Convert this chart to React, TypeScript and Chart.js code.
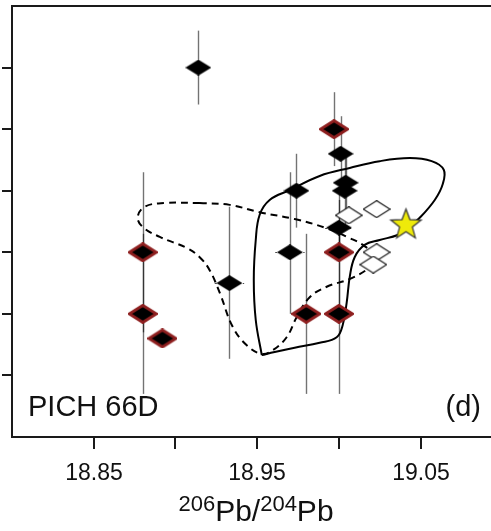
import { useEffect, useRef } from "react";
import { Chart, registerables } from "chart.js";

Chart.register(...registerables);

// Axis extents and ticks (206Pb/204Pb on x, unlabelled ratio on y)
const xMin = 18.8;
const xMax = 19.093;
const yMin = 15.6;
const yMax = 15.67;
const xTicks = [18.85, 18.9, 18.95, 19.0, 19.05];
const xTickLabels = ["18.85", "", "18.95", "", "19.05"];
const yTicks = [15.61, 15.62, 15.63, 15.64, 15.65, 15.66];

// Black diamonds (no rim)
const blackX = [18.914, 18.933, 18.974, 18.970, 19.001, 19.0041, 19.0035, 19.000];
const blackY = [15.660, 15.625, 15.640, 15.630, 15.646, 15.6413, 15.640, 15.634];
const blackErrLow = [15.654, 15.6127, 15.634, 15.620, 15.6398, 15.6355, 15.6345, 15.6295];
const blackErrHigh = [15.666, 15.6374, 15.646, 15.643, 15.6521, 15.6466, 15.6455, 15.6385];
const blackXErr = [0, 0.009, 0, 0.009, 0, 0, 0, 0.0085];

// Black diamonds with red rim
const redX = [18.880, 18.880, 18.892, 18.980, 18.997, 19.000, 19.000];
const redY = [15.630, 15.620, 15.616, 15.620, 15.650, 15.630, 15.620];
const redErrLow = [15.617, 15.607, null, 15.607, 15.644, 15.620, 15.607];
const redErrHigh = [15.643, 15.633, null, 15.633, 15.656, 15.640, 15.633];

// Open diamonds
const openX = [19.006, 19.023, 19.023, 19.021];
const openY = [15.636, 15.637, 15.630, 15.628];

// Star
const starX = [19.041];
const starY = [15.6346];

// Solid field outline
const solidX = [18.9528, 18.9491, 18.9479, 18.9491, 18.9515, 18.9576, 18.9699, 18.9882, 19.0066, 19.0249, 19.0433, 19.0567, 19.0641, 19.0635, 19.0586, 19.0494, 19.0421, 19.0359, 19.0249, 19.0157, 19.0096, 19.0066, 19.0047, 19.0023, 18.9986, 18.9882, 18.9729, 18.9607, 18.9528];
const solidY = [15.6133, 15.6190, 15.6255, 15.6320, 15.6361, 15.6385, 15.6401, 15.6424, 15.6437, 15.6448, 15.6453, 15.6448, 15.6434, 15.6411, 15.6385, 15.6356, 15.6339, 15.6328, 15.6320, 15.6312, 15.6292, 15.6260, 15.6218, 15.6182, 15.6162, 15.6153, 15.6145, 15.6138, 15.6133];

// Dashed field outline
const dashX = [18.9148, 18.9332, 18.9515, 18.9729, 18.9925, 19.0066, 19.0157, 19.0213, 19.0200, 19.0078, 18.9925, 18.9821, 18.9742, 18.9680, 18.9595, 18.9528, 18.9436, 18.9350, 18.9271, 18.9209, 18.9148, 18.9069, 18.8904, 18.8800, 18.8769, 18.8812, 18.8934, 18.9148];
const dashY = [15.6380, 15.6377, 15.6365, 15.6354, 15.6339, 15.6323, 15.6310, 15.6294, 15.6279, 15.6258, 15.6244, 15.6227, 15.6195, 15.6162, 15.6141, 15.6135, 15.6149, 15.6179, 15.6234, 15.6271, 15.6292, 15.6307, 15.6325, 15.6341, 15.6357, 15.6374, 15.6380, 15.6380];

const pts = (xs: number[], ys: number[]) => xs.map((x, i) => ({ x, y: ys[i] }));

function diamond(w: number, h: number, fill: string, stroke: string | null, lw: number) {
  const c = document.createElement("canvas");
  c.width = w;
  c.height = h;
  const g = c.getContext("2d")!;
  const inset = stroke ? lw / 2 : 0;
  g.beginPath();
  g.moveTo(w / 2, inset);
  g.lineTo(w - inset, h / 2);
  g.lineTo(w / 2, h - inset);
  g.lineTo(inset, h / 2);
  g.closePath();
  g.fillStyle = fill;
  g.fill();
  if (stroke) {
    g.strokeStyle = stroke;
    g.lineWidth = lw;
    g.lineJoin = "miter";
    g.stroke();
  }
  return c;
}

function star(size: number) {
  const c = document.createElement("canvas");
  c.width = size;
  c.height = size;
  const g = c.getContext("2d")!;
  const cx = size / 2;
  const cy = size / 2 + 1;
  const ro = size / 2 - 1.5;
  const ri = ro * 0.42;
  g.beginPath();
  for (let k = 0; k < 10; k++) {
    const r = k % 2 === 0 ? ro : ri;
    const a = -Math.PI / 2 + (k * Math.PI) / 5;
    const px = cx + r * Math.cos(a);
    const py = cy + r * Math.sin(a);
    if (k === 0) g.moveTo(px, py);
    else g.lineTo(px, py);
  }
  g.closePath();
  g.fillStyle = "#EEEA0A";
  g.fill();
  g.strokeStyle = "#333";
  g.lineWidth = 1.2;
  g.stroke();
  return c;
}

const FONT = '"Liberation Sans", Arial, Helvetica, sans-serif';

export default function App() {
  const ref = useRef<HTMLCanvasElement | null>(null);

  useEffect(() => {
    const canvas = ref.current;
    if (!canvas) return;

    const errorBars = {
      id: "errorBars",
      beforeDatasetsDraw(chart: any) {
        const xs = chart.scales.x;
        const ys = chart.scales.y;
        const ctx = chart.ctx;
        ctx.save();
        ctx.strokeStyle = "rgba(0,0,0,0.55)";
        ctx.lineWidth = 1.4;
        const vbar = (x: number, lo: number | null, hi: number | null) => {
          if (lo == null || hi == null) return;
          const px = Math.round(xs.getPixelForValue(x)) + 0.5;
          ctx.beginPath();
          ctx.moveTo(px, ys.getPixelForValue(lo));
          ctx.lineTo(px, ys.getPixelForValue(hi));
          ctx.stroke();
        };
        blackX.forEach((x, i) => vbar(x, blackErrLow[i], blackErrHigh[i]));
        redX.forEach((x, i) => vbar(x, redErrLow[i], redErrHigh[i]));
        ctx.setLineDash([2, 2]);
        ctx.lineWidth = 1;
        ctx.strokeStyle = "rgba(0,0,0,0.7)";
        blackX.forEach((x, i) => {
          const e = blackXErr[i];
          if (!e) return;
          const py = Math.round(ys.getPixelForValue(blackY[i])) + 0.5;
          ctx.beginPath();
          ctx.moveTo(xs.getPixelForValue(x - e), py);
          ctx.lineTo(xs.getPixelForValue(x + e), py);
          ctx.stroke();
        });
        ctx.restore();
      },
    };

    const frame = {
      id: "frame",
      afterDraw(chart: any) {
        const { ctx, chartArea: a } = chart;
        const xs = chart.scales.x;
        const ys = chart.scales.y;
        ctx.save();
        ctx.strokeStyle = "#1a1a1a";
        ctx.lineWidth = 2;
        ctx.beginPath();
        ctx.moveTo(a.right, a.top);
        ctx.lineTo(a.left, a.top);
        ctx.lineTo(a.left, a.bottom);
        ctx.lineTo(a.right, a.bottom);
        ctx.stroke();
        // y ticks (outside, left)
        yTicks.forEach((v) => {
          const py = Math.round(ys.getPixelForValue(v));
          ctx.beginPath();
          ctx.moveTo(a.left - 10, py);
          ctx.lineTo(a.left, py);
          ctx.stroke();
        });
        // x ticks and labels
        ctx.fillStyle = "#111";
        ctx.font = `23px ${FONT}`;
        ctx.textAlign = "center";
        ctx.textBaseline = "alphabetic";
        xTicks.forEach((v, i) => {
          const px = Math.round(xs.getPixelForValue(v));
          ctx.beginPath();
          ctx.moveTo(px, a.bottom);
          ctx.lineTo(px, a.bottom + 12);
          ctx.stroke();
          if (xTickLabels[i]) ctx.fillText(xTickLabels[i], px, 480);
        });
        // axis title 206Pb/204Pb
        const parts: [string, number, number][] = [
          ["206", 22, 511],
          ["Pb/", 30, 521],
          ["204", 22, 511],
          ["Pb", 30, 521],
        ];
        ctx.textAlign = "left";
        let total = 0;
        parts.forEach(([t, s]) => {
          ctx.font = `${s}px ${FONT}`;
          total += ctx.measureText(t).width;
        });
        let cx = (a.left + 500) / 2 - total / 2;
        parts.forEach(([t, s, b]) => {
          ctx.font = `${s}px ${FONT}`;
          ctx.fillText(t, cx, b);
          cx += ctx.measureText(t).width;
        });
        // panel labels
        ctx.font = `29px ${FONT}`;
        ctx.textAlign = "left";
        ctx.fillText("PICH 66D", 28, 416);
        ctx.textAlign = "right";
        ctx.fillText("(d)", 481, 416);
        ctx.restore();
      },
    };

    const blackStyle = diamond(26, 16, "#000", null, 0);
    const redStyle = diamond(30, 20, "#000", "#8E1F1F", 3);
    const openStyle = diamond(28, 18, "#fff", "#111", 1.2);
    const starStyle = star(35);

    const chart = new Chart(canvas, {
      type: "scatter",
      data: {
        datasets: [
          {
            label: "solid",
            data: pts(solidX, solidY),
            showLine: true,
            borderColor: "#000",
            borderWidth: 2,
            tension: 0.4,
            pointRadius: 0,
            fill: false,
            order: 10,
          },
          {
            label: "dashed",
            data: pts(dashX, dashY),
            showLine: true,
            borderColor: "#000",
            borderWidth: 2,
            borderDash: [7, 5],
            tension: 0.4,
            pointRadius: 0,
            fill: false,
            order: 9,
          },
          {
            label: "open",
            data: pts(openX, openY),
            pointStyle: openStyle as any,
            pointRadius: 10,
            order: 3,
          },
          {
            label: "black",
            data: pts(blackX, blackY),
            pointStyle: blackStyle as any,
            pointRadius: 10,
            order: 2,
          },
          {
            label: "red",
            data: pts(redX, redY),
            pointStyle: redStyle as any,
            pointRadius: 10,
            order: 1,
          },
          {
            label: "star",
            data: pts(starX, starY),
            pointStyle: starStyle as any,
            pointRadius: 10,
            order: 0,
          },
        ],
      },
      options: {
        animation: false,
        responsive: false,
        events: [],
        layout: { autoPadding: false, padding: { left: 12, top: 6, right: 0, bottom: 94 } },
        plugins: { legend: { display: false }, tooltip: { enabled: false } },
        scales: {
          x: { type: "linear", min: xMin, max: xMax, display: false },
          y: { type: "linear", min: yMin, max: yMax, display: false },
        },
      },
      plugins: [errorBars, frame],
    });

    return () => chart.destroy();
  }, []);

  return (
    <div style={{ position: "absolute", left: 0, top: 0, width: 491, height: 531, background: "#fff" }}>
      <canvas ref={ref} width={491} height={531} style={{ display: "block" }} />
    </div>
  );
}
